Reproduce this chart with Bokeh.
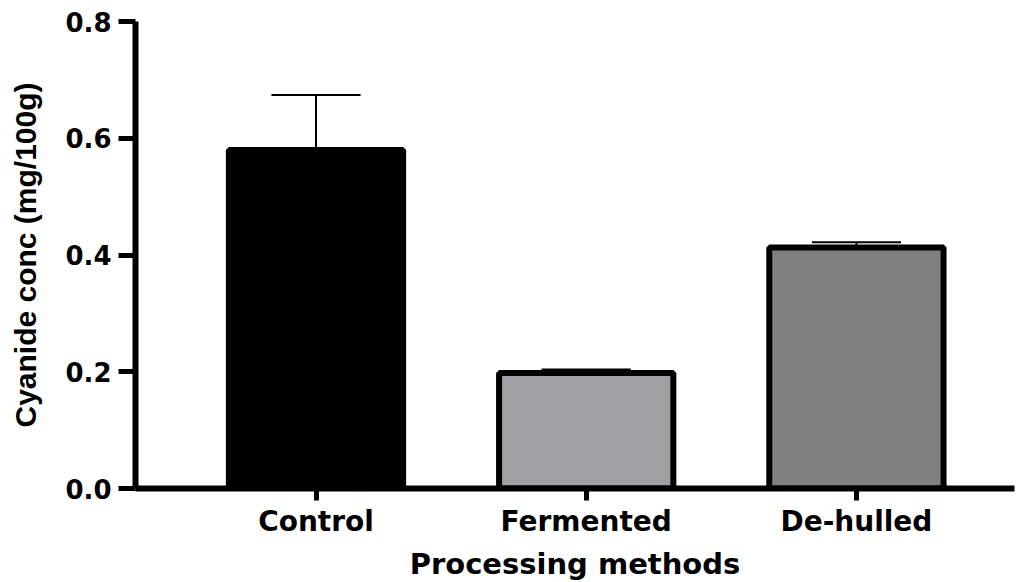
from bokeh.plotting import figure
from bokeh.models import Range1d, FixedTicker, PrintfTickFormatter, ColumnDataSource
from bokeh.embed import file_html
from bokeh.resources import INLINE

categories = ["Control", "Fermented", "De-hulled"]
means = [0.58, 0.198, 0.413]
errors = [0.094, 0.006, 0.009]
colors = ["#000000", "#a0a0a4", "#808080"]
y_ticks = [0.0, 0.2, 0.4, 0.6, 0.8]

xs = list(range(1, len(categories) + 1))
tops = [m + e for m, e in zip(means, errors)]
cap_half = 0.165

src = ColumnDataSource(dict(x=xs, top=means, color=colors, etop=tops,
                            cl=[x - cap_half for x in xs], cr=[x + cap_half for x in xs]))

p = figure(frame_width=879, frame_height=467,
           x_range=Range1d(0.332, 3.585), y_range=Range1d(0, 0.8),
           output_backend="svg", toolbar_location=None,
           min_border_left=135, min_border_top=21, min_border_right=6, min_border_bottom=88)
p.title.visible = False
p.grid.visible = False
p.outline_line_color = None
p.background_fill_color = "white"

p.vbar(x="x", top="top", bottom=0, width=0.645, fill_color="color",
       line_color="black", line_width=6, source=src)
p.segment(x0="x", y0="top", x1="x", y1="etop", line_color="black", line_width=2, source=src)
p.segment(x0="cl", y0="etop", x1="cr", y1="etop", line_color="black", line_width=2, source=src)

tick_font = "DejaVu Sans"

p.yaxis.ticker = FixedTicker(ticks=y_ticks)
p.yaxis.formatter = PrintfTickFormatter(format="%.1f")
p.yaxis.axis_line_width = 6
p.yaxis.major_tick_line_width = 5
p.yaxis.major_tick_out = 17
p.yaxis.major_tick_in = 0
p.yaxis.minor_tick_line_color = None
p.yaxis.major_label_text_font = tick_font
p.yaxis.major_label_text_font_style = "bold"
p.yaxis.major_label_text_font_size = "26px"
p.yaxis.major_label_text_color = "black"
p.yaxis.major_label_standoff = 7
p.yaxis.axis_label = "Cyanide conc (mg/100g)"
p.yaxis.axis_label_text_font = "Liberation Sans"
p.yaxis.axis_label_text_font_style = "bold"
p.yaxis.axis_label_text_font_size = "30px"
p.yaxis.axis_label_text_color = "black"
p.yaxis.axis_label_standoff = 20

p.xaxis.ticker = FixedTicker(ticks=xs)
p.xaxis.major_label_overrides = {x: c for x, c in zip(xs, categories)}
p.xaxis.axis_line_width = 6
p.xaxis.major_tick_line_width = 5
p.xaxis.major_tick_out = 12
p.xaxis.major_tick_in = 0
p.xaxis.minor_tick_line_color = None
p.xaxis.major_label_text_font = tick_font
p.xaxis.major_label_text_font_style = "bold"
p.xaxis.major_label_text_font_size = "28px"
p.xaxis.major_label_text_color = "black"
p.xaxis.major_label_standoff = 4
p.xaxis.axis_label = "Processing methods"
p.xaxis.axis_label_text_font = tick_font
p.xaxis.axis_label_text_font_style = "bold"
p.xaxis.axis_label_text_font_size = "29px"
p.xaxis.axis_label_text_color = "black"
p.xaxis.axis_label_standoff = 6

open("out.html", "w").write(file_html(p, INLINE))
